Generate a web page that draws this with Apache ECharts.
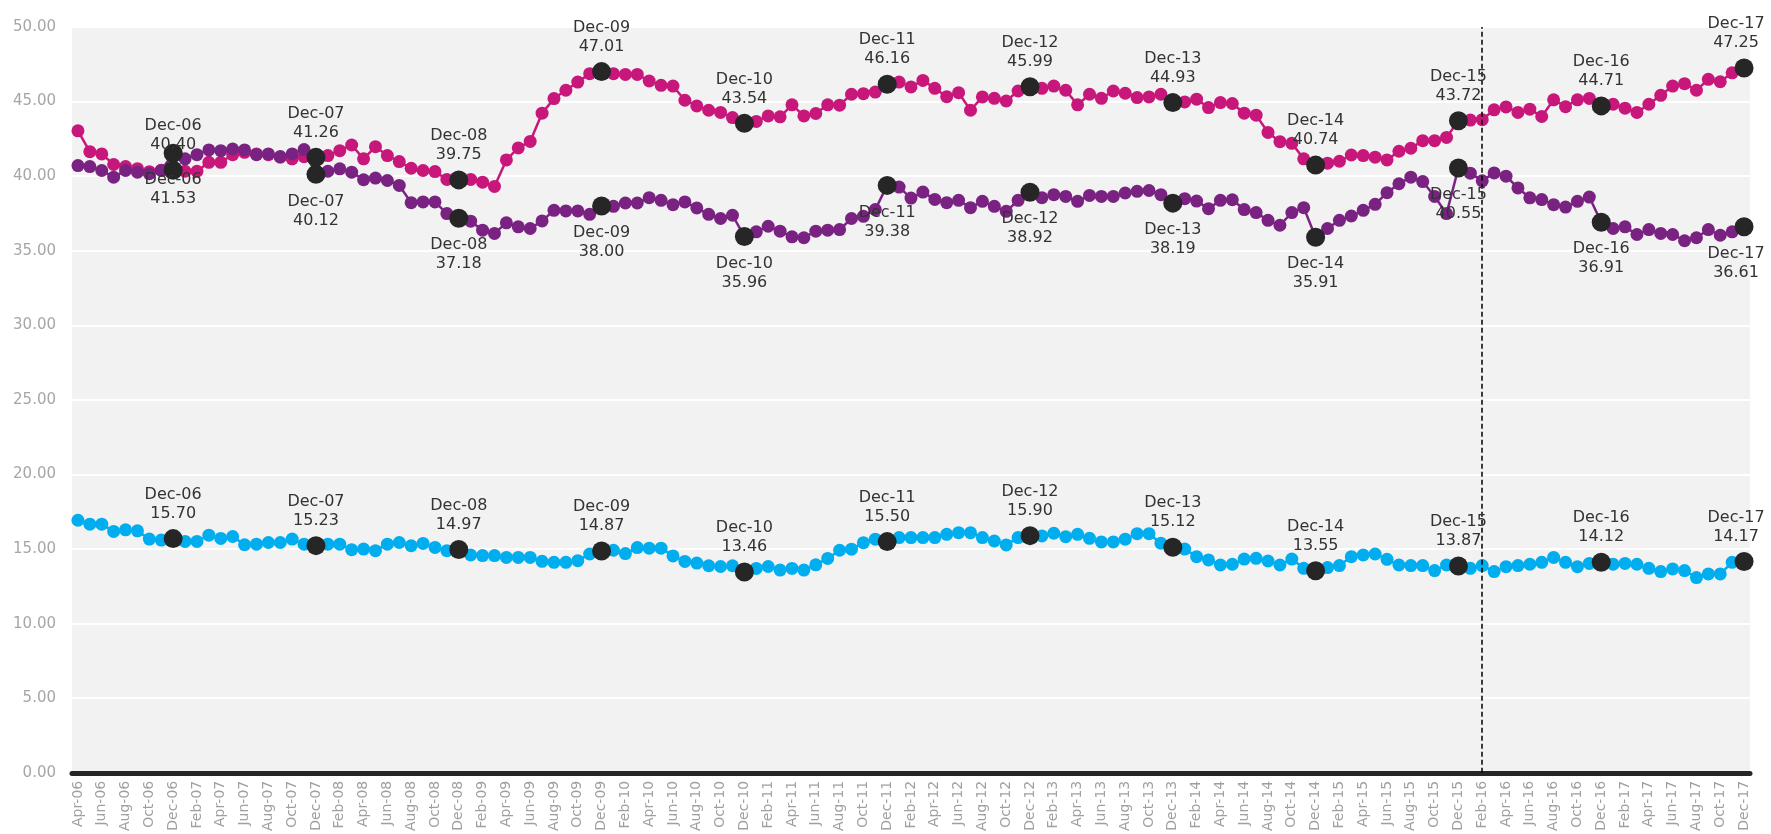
<!DOCTYPE html>
<html>
<head>
<meta charset="utf-8">
<title>Monthly share trend, Apr-06 to Dec-17</title>
<script src="https://cdn.jsdelivr.net/npm/echarts@6/dist/echarts.min.js"></script>
<style>
  html, body { margin: 0; padding: 0; background: #ffffff; }
  #chart { width: 1771px; height: 834px; }
</style>
</head>
<body>
<div id="chart"></div>
<script>
// Month categories, Apr-06 through Dec-17
const months = [
  'Apr-06','May-06','Jun-06','Jul-06','Aug-06','Sep-06','Oct-06','Nov-06','Dec-06',
  'Jan-07','Feb-07','Mar-07','Apr-07','May-07','Jun-07','Jul-07','Aug-07','Sep-07','Oct-07','Nov-07','Dec-07',
  'Jan-08','Feb-08','Mar-08','Apr-08','May-08','Jun-08','Jul-08','Aug-08','Sep-08','Oct-08','Nov-08','Dec-08',
  'Jan-09','Feb-09','Mar-09','Apr-09','May-09','Jun-09','Jul-09','Aug-09','Sep-09','Oct-09','Nov-09','Dec-09',
  'Jan-10','Feb-10','Mar-10','Apr-10','May-10','Jun-10','Jul-10','Aug-10','Sep-10','Oct-10','Nov-10','Dec-10',
  'Jan-11','Feb-11','Mar-11','Apr-11','May-11','Jun-11','Jul-11','Aug-11','Sep-11','Oct-11','Nov-11','Dec-11',
  'Jan-12','Feb-12','Mar-12','Apr-12','May-12','Jun-12','Jul-12','Aug-12','Sep-12','Oct-12','Nov-12','Dec-12',
  'Jan-13','Feb-13','Mar-13','Apr-13','May-13','Jun-13','Jul-13','Aug-13','Sep-13','Oct-13','Nov-13','Dec-13',
  'Jan-14','Feb-14','Mar-14','Apr-14','May-14','Jun-14','Jul-14','Aug-14','Sep-14','Oct-14','Nov-14','Dec-14',
  'Jan-15','Feb-15','Mar-15','Apr-15','May-15','Jun-15','Jul-15','Aug-15','Sep-15','Oct-15','Nov-15','Dec-15',
  'Jan-16','Feb-16','Mar-16','Apr-16','May-16','Jun-16','Jul-16','Aug-16','Sep-16','Oct-16','Nov-16','Dec-16',
  'Jan-17','Feb-17','Mar-17','Apr-17','May-17','Jun-17','Jul-17','Aug-17','Sep-17','Oct-17','Nov-17','Dec-17'
];

// Upper magenta series
const magentaValues = [
  43.04,41.64,41.49,40.78,40.64,40.50,40.30,40.40,40.40,
  40.33,40.33,40.93,40.93,41.44,41.60,41.49,41.44,41.27,41.16,41.30,41.26,
  41.38,41.71,42.09,41.16,41.98,41.38,40.98,40.53,40.38,40.31,39.78,39.75,
  39.78,39.60,39.31,41.09,41.89,42.33,44.22,45.20,45.76,46.31,46.87,47.01,
  46.87,46.82,46.82,46.38,46.09,46.04,45.09,44.71,44.42,44.27,43.93,43.54,
  43.67,44.04,43.98,44.78,44.04,44.20,44.78,44.76,45.49,45.53,45.64,46.16,
  46.31,45.98,46.42,45.89,45.33,45.60,44.42,45.31,45.22,45.04,45.71,45.99,
  45.89,46.04,45.76,44.78,45.49,45.22,45.71,45.56,45.27,45.31,45.49,44.93,
  44.98,45.16,44.60,44.93,44.87,44.22,44.09,42.93,42.31,42.20,41.16,40.74,
  40.87,41.00,41.42,41.38,41.27,41.09,41.67,41.87,42.38,42.38,42.60,43.72,
  43.76,43.79,44.45,44.64,44.27,44.49,44.00,45.12,44.66,45.12,45.21,44.71,
  44.82,44.56,44.27,44.82,45.42,46.04,46.20,45.76,46.49,46.33,46.93,47.25
];

// Middle purple series
const purpleValues = [
  40.71,40.64,40.38,39.93,40.38,40.27,40.16,40.38,41.53,
  41.16,41.44,41.76,41.71,41.82,41.76,41.44,41.49,41.31,41.49,41.78,40.12,
  40.33,40.49,40.27,39.76,39.87,39.71,39.38,38.22,38.27,38.27,37.49,37.18,
  36.98,36.38,36.16,36.87,36.60,36.49,37.00,37.71,37.67,37.67,37.44,38.00,
  37.98,38.20,38.20,38.56,38.38,38.09,38.27,37.87,37.44,37.16,37.38,35.96,
  36.27,36.64,36.31,35.93,35.87,36.31,36.38,36.42,37.16,37.31,37.76,39.38,
  39.27,38.53,38.93,38.44,38.22,38.38,37.89,38.31,37.98,37.64,38.38,38.92,
  38.56,38.76,38.64,38.31,38.71,38.64,38.64,38.87,38.98,39.04,38.76,38.19,
  38.49,38.33,37.82,38.38,38.42,37.76,37.56,37.04,36.71,37.56,37.89,35.91,
  36.49,37.04,37.33,37.71,38.11,38.89,39.49,39.93,39.64,38.64,37.49,40.55,
  40.20,39.69,40.22,40.00,39.21,38.55,38.43,38.09,37.93,38.31,38.60,36.91,
  36.49,36.60,36.09,36.42,36.16,36.09,35.67,35.87,36.42,36.04,36.27,36.61
];

// Lower cyan series
const cyanValues = [
  16.93,16.67,16.67,16.18,16.29,16.22,15.67,15.60,15.70,
  15.51,15.51,15.93,15.71,15.84,15.29,15.33,15.44,15.44,15.67,15.33,15.23,
  15.33,15.33,14.96,15.00,14.89,15.33,15.44,15.22,15.38,15.11,14.89,14.97,
  14.60,14.56,14.56,14.44,14.44,14.44,14.18,14.11,14.11,14.22,14.67,14.87,
  14.92,14.70,15.10,15.06,15.06,14.54,14.17,14.06,13.88,13.83,13.88,13.46,
  13.70,13.83,13.59,13.70,13.59,13.94,14.37,14.92,14.99,15.43,15.66,15.50,
  15.77,15.77,15.77,15.77,15.99,16.10,16.10,15.77,15.54,15.28,15.77,15.90,
  15.88,16.06,15.83,15.99,15.72,15.48,15.48,15.66,16.03,16.03,15.39,15.12,
  15.00,14.49,14.27,13.93,13.98,14.33,14.38,14.20,13.93,14.33,13.71,13.55,
  13.76,13.89,14.49,14.60,14.67,14.31,13.93,13.89,13.89,13.56,13.93,13.87,
  13.71,13.89,13.49,13.82,13.89,13.98,14.11,14.44,14.11,13.82,14.04,14.12,
  13.98,14.04,13.98,13.71,13.49,13.67,13.56,13.09,13.33,13.33,14.11,14.17
];

// y-axis range and step
const yMin = 0, yMax = 50, yStep = 5;
// month where the dashed marker line is placed
const markerMonth = 'Feb-16';

const FONT = 'DejaVu Sans';
const colors = { magenta: '#C8177B', purple: '#7A2282', cyan: '#00ADEF', dot: '#262626' };

function lineSeries(name, values, color) {
  return {
    name: name,
    type: 'line',
    data: values,
    symbol: 'circle',
    symbolSize: 13,
    showAllSymbol: true,
    lineStyle: { color: color, width: 2.5 },
    itemStyle: { color: color, opacity: 1 },
    z: 2
  };
}

// December highlights: large dark dots with a "month / value" label
function decemberSeries(name, values, labelPos) {
  const pts = [];
  months.forEach((m, i) => {
    if (m.startsWith('Dec')) {
      const item = { value: [m, values[i]] };
      if (i === months.length - 1) item.label = { offset: [-8, 0] };
      pts.push(item);
    }
  });
  return {
    name: name + ' Dec',
    type: 'scatter',
    data: pts,
    symbol: 'circle',
    symbolSize: 19,
    itemStyle: { color: colors.dot, opacity: 1 },
    z: 5,
    label: {
      show: true,
      position: labelPos,
      distance: labelPos === 'top' ? 6 : 8,
      formatter: p => p.value[0] + '\n' + p.value[1].toFixed(2),
      color: '#333333',
      fontFamily: FONT,
      fontSize: 16,
      lineHeight: 19,
      align: 'center'
    }
  };
}

const chart = echarts.init(document.getElementById('chart'), null, { renderer: 'canvas' });

const magenta = lineSeries('Magenta', magentaValues, colors.magenta);
magenta.markLine = {
  silent: true,
  symbol: ['none', 'none'],
  label: { show: false },
  lineStyle: { color: '#000000', type: [5, 3], width: 1.5 },
  data: [{ xAxis: markerMonth }]
};

chart.setOption({
  animation: false,
  backgroundColor: '#ffffff',
  grid: {
    left: 72, right: 21, top: 27, bottom: 57,
    show: true, backgroundColor: '#F2F2F2', borderWidth: 0
  },
  xAxis: {
    type: 'category',
    data: months,
    boundaryGap: true,
    axisLine: { show: true, lineStyle: { color: '#262626', width: 5 } },
    axisTick: { show: false },
    splitLine: { show: false },
    axisLabel: {
      interval: 1,
      rotate: 90,
      color: '#A0A0A0',
      fontFamily: FONT,
      fontSize: 14,
      margin: 8
    }
  },
  yAxis: {
    type: 'value',
    min: yMin, max: yMax, interval: yStep,
    axisLine: { show: false },
    axisTick: { show: false },
    splitLine: { show: true, lineStyle: { color: '#FFFFFF', width: 2 } },
    axisLabel: {
      formatter: v => v.toFixed(2),
      color: '#A6A6A6',
      fontFamily: FONT,
      fontSize: 15,
      margin: 16
    }
  },
  series: [
    magenta,
    lineSeries('Purple', purpleValues, colors.purple),
    lineSeries('Cyan', cyanValues, colors.cyan),
    decemberSeries('Magenta', magentaValues, 'top'),
    decemberSeries('Purple', purpleValues, 'bottom'),
    decemberSeries('Cyan', cyanValues, 'top')
  ]
});
</script>
</body>
</html>
